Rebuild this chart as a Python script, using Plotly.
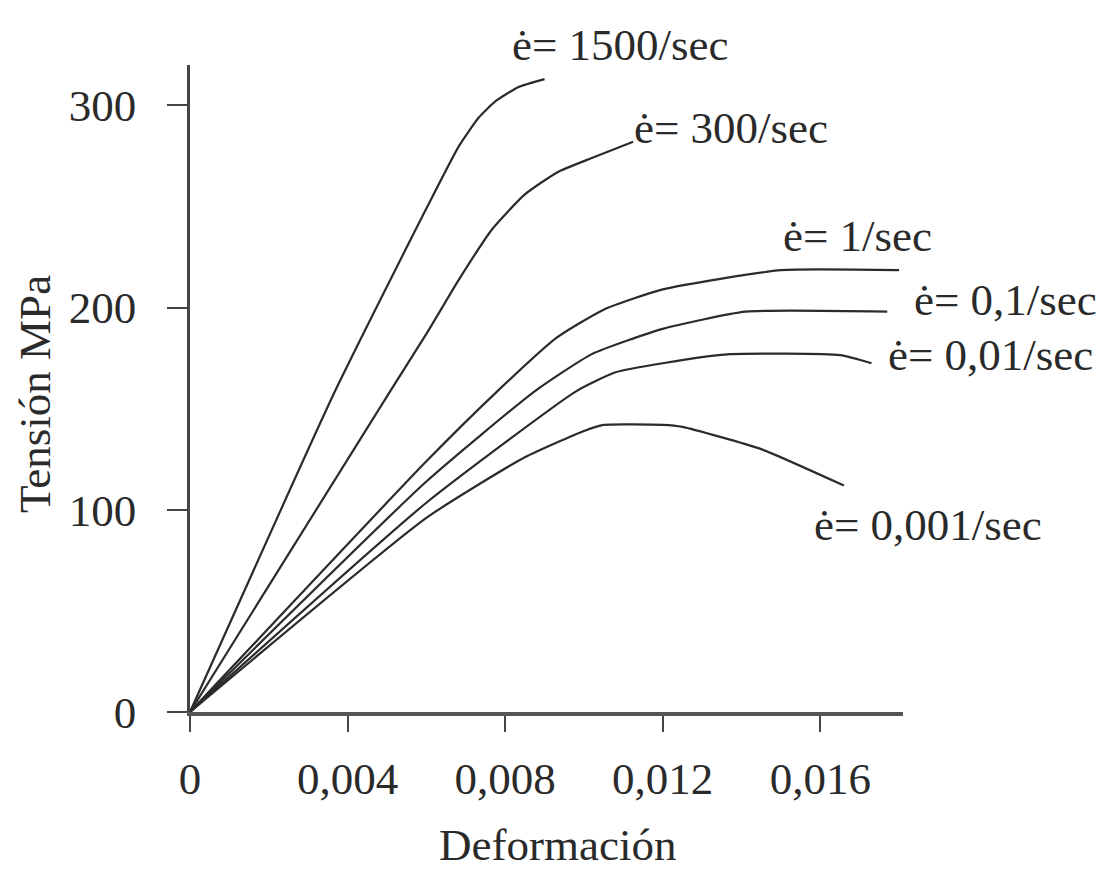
import plotly.graph_objects as go

# ---- data ----
strain_1500 = [0, 0.00368, 0.006, 0.00683, 0.00733, 0.00775, 0.00833, 0.009]
stress_1500 = [0, 158.6, 249, 280, 294, 302, 309, 313]

strain_300 = [0, 0.00508, 0.006, 0.00683, 0.00768, 0.0085, 0.00933, 0.0102, 0.01125]
stress_300 = [0, 158.6, 187, 214, 239, 256, 267, 274, 282]

strain_1 = [0, 0.006, 0.0078, 0.0093, 0.0105, 0.012, 0.015, 0.018]
stress_1 = [0, 124, 158.6, 185, 199, 209, 218.5, 218.5]

strain_01 = [0, 0.006, 0.00875, 0.0102, 0.012, 0.0141, 0.0177]
stress_01 = [0, 114, 158.6, 177, 189.5, 198, 198]

strain_001 = [0, 0.006, 0.0098, 0.0108, 0.012, 0.0137, 0.0165, 0.0173]
stress_001 = [0, 103.5, 158.6, 168, 172.5, 177, 176.5, 172.5]

strain_0001 = [0, 0.006, 0.0085, 0.01, 0.0105, 0.012, 0.0125, 0.0145, 0.0166]
stress_0001 = [0, 96, 126, 139, 142, 142, 141, 130, 112]

series_labels = ["ė= 1500/sec", "ė= 300/sec", "ė= 1/sec",
                 "ė= 0,1/sec", "ė= 0,01/sec", "ė= 0,001/sec"]

x_tickvals = [0, 0.004, 0.008, 0.012, 0.016]
x_ticktext = ["0", "0,004", "0,008", "0,012", "0,016"]
y_tickvals = [0, 100, 200, 300]
y_ticktext = ["0", "100", "200", "300"]

x_title = "Deformación"
y_title = "Tensión MPa"

# ---- figure ----
FONT = "Liberation Serif, Times New Roman, serif"
FS = 45
LINE_COLOR = "#2b2b2b"
TEXT_COLOR = "#2a2a2a"

series = [
    (strain_1500, stress_1500),
    (strain_300, stress_300),
    (strain_1, stress_1),
    (strain_01, stress_01),
    (strain_001, stress_001),
    (strain_0001, stress_0001),
]

fig = go.Figure()
for (xs, ys), name in zip(series, series_labels):
    fig.add_trace(go.Scatter(
        x=xs, y=ys, mode="lines", name=name,
        line=dict(color=LINE_COLOR, width=2.2, shape="spline", smoothing=0.5),
        showlegend=False, hoverinfo="skip",
    ))

# label positions in paper coordinates (left edge, vertical middle)
label_pos = [
    (0.4488, 1.031),
    (0.620, 0.9026),
    (0.829, 0.7357),
    (1.0126, 0.6368),
    (0.976, 0.5518),
    (0.8724, 0.289),
]
for (lx, ly), txt in zip(label_pos, series_labels):
    fig.add_annotation(
        x=lx, y=ly, xref="paper", yref="paper", text=txt, showarrow=False,
        xanchor="left", yanchor="middle",
        font=dict(family=FONT, size=FS, color=TEXT_COLOR),
    )

fig.add_annotation(
    x=0.516, y=-0.2056, xref="paper", yref="paper", text=x_title,
    showarrow=False, xanchor="center", yanchor="middle",
    font=dict(family=FONT, size=FS, color=TEXT_COLOR),
)
fig.add_annotation(
    x=-0.2174, y=0.4915, xref="paper", yref="paper", text=y_title,
    showarrow=False, xanchor="center", yanchor="middle", textangle=-90,
    font=dict(family=FONT, size=FS, color=TEXT_COLOR),
)

fig.update_layout(
    width=1096, height=872,
    margin=dict(l=182, r=201, t=57, b=168),
    paper_bgcolor="white", plot_bgcolor="white",
    font=dict(family=FONT, size=FS, color=TEXT_COLOR),
)
fig.update_xaxes(
    range=[0, 0.0181], tickvals=x_tickvals, ticktext=x_ticktext,
    showgrid=False, zeroline=False, showline=True, linecolor="#555", linewidth=3.5,
    ticks="outside", ticklen=16, tickwidth=2, tickcolor="#444",
    ticklabelstandoff=8,
    tickfont=dict(family=FONT, size=FS, color=TEXT_COLOR),
)
fig.update_yaxes(
    range=[0, 320], tickvals=y_tickvals, ticktext=y_ticktext,
    showgrid=False, zeroline=False, showline=True, linecolor="#444", linewidth=2.5,
    ticks="outside", ticklen=20, tickwidth=2, tickcolor="#444",
    ticklabelstandoff=22,
    tickfont=dict(family=FONT, size=FS, color=TEXT_COLOR),
)

fig.write_html("out.html")
